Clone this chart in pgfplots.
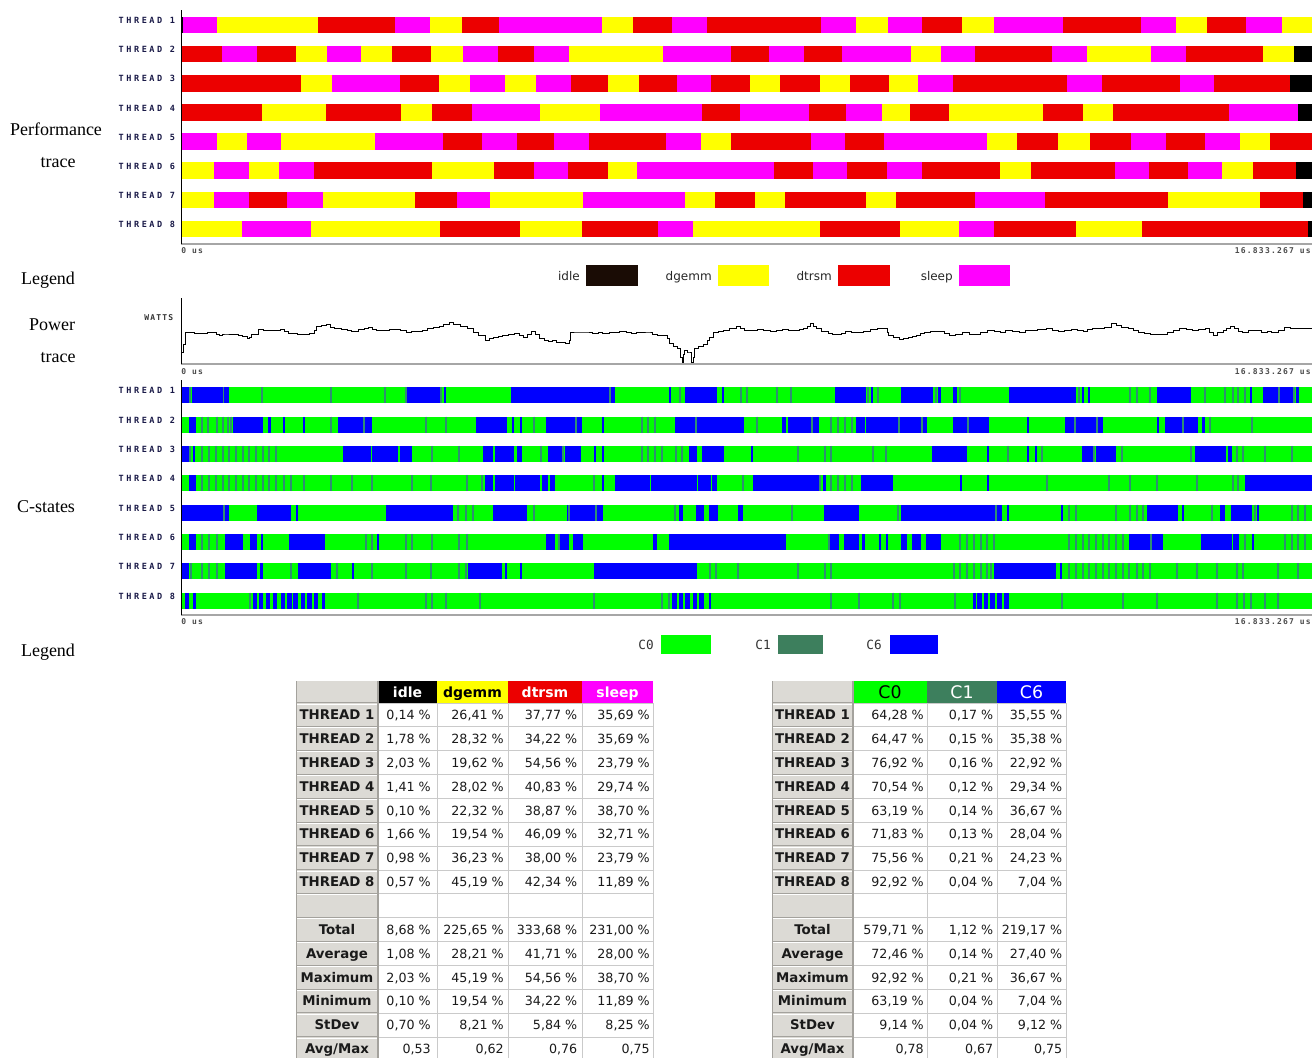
\documentclass[border=0pt]{standalone}
\usepackage{fontspec}
\setmainfont{Liberation Serif}
\newfontfamily\dejavu{DejaVu Sans}
\newfontfamily\dmono{DejaVu Sans Mono}
\newfontfamily\thrfont[LetterSpace=30]{DejaVu Sans Mono}
\newfontfamily\usfont[LetterSpace=15]{DejaVu Sans Mono}
\usepackage{pgfplots}
\pgfplotsset{compat=1.18}
\definecolor{cY}{HTML}{FFFF00}
\definecolor{cR}{HTML}{EC0000}
\definecolor{cM}{HTML}{FF00FF}
\definecolor{cK}{HTML}{000000}
\definecolor{cIdle}{HTML}{1A0C05}
\definecolor{cG}{HTML}{00FF00}
\definecolor{cB}{HTML}{0000FF}
\definecolor{cC1}{HTML}{3D7F5D}
\definecolor{cT}{HTML}{2E8F72}
\definecolor{cGray}{HTML}{DCDAD5}
\definecolor{cGrid}{HTML}{CACACA}
\definecolor{cDark}{HTML}{A4A29D}
\definecolor{cTxt}{HTML}{1A1A1A}
\pgfplotsset{
 trace/.style={scale only axis, anchor=north west, width=848.25pt, xmin=181, xmax=1312,
   axis x line=bottom, axis y line=left, axis on top=true,
   x axis line style={-, draw=black!35, line width=1.5pt},
   y axis line style={-, draw=black, line width=0.75pt},
   xtick=\empty, major tick length=0pt, unbounded coords=jump,
   ytick={1,2,3,4,5,6,7,8},
   yticklabels={THREAD 8,THREAD 7,THREAD 6,THREAD 5,THREAD 4,THREAD 3,THREAD 2,THREAD 1},
   yticklabel style={font=\thrfont\bfseries\fontsize{6.4}{7}\selectfont, text=black!80!blue!90,
     anchor=east, inner sep=0pt, xshift=-4.2pt, yshift=3.4pt}},
}
\tikzset{
 tl/.style={anchor=base, inner sep=0pt, text=cTxt, font=\dejavu\bfseries\fontsize{10}{12}\selectfont},
 tn/.style={anchor=base east, inner sep=0pt, text=cTxt, font=\dejavu\fontsize{9.5}{11}\selectfont},
 side/.style={anchor=base, inner sep=0pt, font=\fontsize{13.5}{15}\selectfont},
 leg/.style={anchor=base east, inner sep=0pt, text=black!85, font=\dejavu\fontsize{9}{10}\selectfont},
 legm/.style={anchor=base east, inner sep=0pt, text=black!80, font=\dmono\fontsize{9.5}{10}\selectfont},
 us/.style={inner sep=0pt, text=black!70, font=\usfont\bfseries\fontsize{6}{7}\selectfont},
}
\newcommand\LT[6]{%
 \node[tl] at (337,{703+(#1-0.5)*23.86+4.7}) {#2};
 \node[tn] at (431,{703+(#1-0.5)*23.86+4.7}) {#3};
 \node[tn] at (504,{703+(#1-0.5)*23.86+4.7}) {#4};
 \node[tn] at (577.5,{703+(#1-0.5)*23.86+4.7}) {#5};
 \node[tn] at (650,{703+(#1-0.5)*23.86+4.7}) {#6};}
\newcommand\RT[5]{%
 \node[tl] at (812.5,{703+(#1-0.5)*23.86+4.7}) {#2};
 \node[tn] at (924,{703+(#1-0.5)*23.86+4.7}) {#3};
 \node[tn] at (993.5,{703+(#1-0.5)*23.86+4.7}) {#4};
 \node[tn] at (1062.5,{703+(#1-0.5)*23.86+4.7}) {#5};}
\begin{document}
\begin{tikzpicture}[x=0.75pt,y=-0.75pt]
\path[use as bounding box] (0,0) rectangle (1312,1057);

% ---------------- Performance trace ----------------
\begin{axis}[trace, at={(135.75pt,-7.5pt)}, height=175.5pt, ymin=0.4853, ymax=8.515]
\addplot[draw=cY, line width=12.5pt] coordinates {
(217,8)(318,8)(nan,nan)(430,8)(462,8)(nan,nan)(602,8)(633,8)(nan,nan)(856,8)(888,8)(nan,nan)(962,8)(994,8)(nan,nan)(1176,8)(1207,8)(nan,nan)(1282,8)(1312,8)(nan,nan)
(296,7)(327,7)(nan,nan)(361,7)(392,7)(nan,nan)(431,7)(463,7)(nan,nan)(569,7)(663,7)(nan,nan)(911,7)(941,7)(nan,nan)(1087,7)(1151,7)(nan,nan)(1263,7)(1294,7)(nan,nan)
(301,6)(332,6)(nan,nan)(439,6)(470,6)(nan,nan)(505,6)(536,6)(nan,nan)(608,6)(639,6)(nan,nan)(750,6)(780,6)(nan,nan)(820,6)(850,6)(nan,nan)(889,6)(918,6)(nan,nan)
(262,5)(326,5)(nan,nan)(401,5)(432,5)(nan,nan)(540,5)(600,5)(nan,nan)(882,5)(910,5)(nan,nan)(949,5)(1043,5)(nan,nan)(1083,5)(1113,5)(nan,nan)
(217,4)(247,4)(nan,nan)(281,4)(375,4)(nan,nan)(701,4)(731,4)(nan,nan)(987,4)(1017,4)(nan,nan)(1058,4)(1090,4)(nan,nan)(1240,4)(1270,4)(nan,nan)
(181,3)(214,3)(nan,nan)(249,3)(279,3)(nan,nan)(432,3)(494,3)(nan,nan)(608,3)(637,3)(nan,nan)(1000,3)(1031,3)(nan,nan)(1222,3)(1253,3)(nan,nan)
(181,2)(214,2)(nan,nan)(323,2)(415,2)(nan,nan)(490,2)(583,2)(nan,nan)(685,2)(715,2)(nan,nan)(755,2)(785,2)(nan,nan)(866,2)(896,2)(nan,nan)(1168,2)(1260,2)(nan,nan)
(181,1)(242,1)(nan,nan)(311,1)(440,1)(nan,nan)(520,1)(582,1)(nan,nan)(693,1)(820,1)(nan,nan)(900,1)(959,1)(nan,nan)(1076,1)(1142,1)
};
\addplot[draw=cR, line width=12.5pt] coordinates {
(318,8)(395,8)(nan,nan)(462,8)(499,8)(nan,nan)(633,8)(672,8)(nan,nan)(707,8)(821,8)(nan,nan)(922,8)(962,8)(nan,nan)(1063,8)(1141,8)(nan,nan)(1207,8)(1246,8)(nan,nan)
(181,7)(222,7)(nan,nan)(257,7)(296,7)(nan,nan)(392,7)(431,7)(nan,nan)(498,7)(534,7)(nan,nan)(731,7)(769,7)(nan,nan)(804,7)(842,7)(nan,nan)(975,7)(1052,7)(nan,nan)(1186,7)(1263,7)(nan,nan)
(181,6)(301,6)(nan,nan)(400,6)(439,6)(nan,nan)(571,6)(608,6)(nan,nan)(639,6)(677,6)(nan,nan)(711,6)(750,6)(nan,nan)(780,6)(820,6)(nan,nan)(850,6)(889,6)(nan,nan)(953,6)(1067,6)(nan,nan)(1102,6)(1180,6)(nan,nan)(1214,6)(1290,6)(nan,nan)
(181,5)(262,5)(nan,nan)(326,5)(401,5)(nan,nan)(432,5)(472,5)(nan,nan)(702,5)(740,5)(nan,nan)(809,5)(846,5)(nan,nan)(910,5)(949,5)(nan,nan)(1043,5)(1083,5)(nan,nan)(1113,5)(1229,5)(nan,nan)
(443,4)(482,4)(nan,nan)(517,4)(554,4)(nan,nan)(589,4)(666,4)(nan,nan)(731,4)(811,4)(nan,nan)(845,4)(884,4)(nan,nan)(1017,4)(1058,4)(nan,nan)(1090,4)(1131,4)(nan,nan)(1166,4)(1205,4)(nan,nan)(1270,4)(1312,4)(nan,nan)
(314,3)(432,3)(nan,nan)(494,3)(534,3)(nan,nan)(568,3)(608,3)(nan,nan)(774,3)(813,3)(nan,nan)(847,3)(887,3)(nan,nan)(922,3)(1000,3)(nan,nan)(1031,3)(1115,3)(nan,nan)(1149,3)(1188,3)(nan,nan)(1253,3)(1296,3)(nan,nan)
(249,2)(287,2)(nan,nan)(415,2)(457,2)(nan,nan)(715,2)(755,2)(nan,nan)(785,2)(866,2)(nan,nan)(896,2)(975,2)(nan,nan)(1045,2)(1168,2)(nan,nan)(1260,2)(1303,2)(nan,nan)
(440,1)(520,1)(nan,nan)(582,1)(658,1)(nan,nan)(820,1)(900,1)(nan,nan)(994,1)(1076,1)(nan,nan)(1142,1)(1308,1)
};
\addplot[draw=cM, line width=12.5pt] coordinates {
(183,8)(217,8)(nan,nan)(395,8)(430,8)(nan,nan)(499,8)(602,8)(nan,nan)(672,8)(707,8)(nan,nan)(821,8)(856,8)(nan,nan)(888,8)(922,8)(nan,nan)(994,8)(1063,8)(nan,nan)(1141,8)(1176,8)(nan,nan)(1246,8)(1282,8)(nan,nan)
(222,7)(257,7)(nan,nan)(327,7)(361,7)(nan,nan)(463,7)(498,7)(nan,nan)(534,7)(569,7)(nan,nan)(663,7)(731,7)(nan,nan)(769,7)(804,7)(nan,nan)(842,7)(911,7)(nan,nan)(941,7)(975,7)(nan,nan)(1052,7)(1087,7)(nan,nan)(1151,7)(1186,7)(nan,nan)
(332,6)(400,6)(nan,nan)(470,6)(505,6)(nan,nan)(536,6)(571,6)(nan,nan)(677,6)(711,6)(nan,nan)(918,6)(953,6)(nan,nan)(1067,6)(1102,6)(nan,nan)(1180,6)(1214,6)(nan,nan)
(472,5)(540,5)(nan,nan)(600,5)(702,5)(nan,nan)(740,5)(809,5)(nan,nan)(846,5)(882,5)(nan,nan)(1229,5)(1298,5)(nan,nan)
(181,4)(217,4)(nan,nan)(247,4)(281,4)(nan,nan)(375,4)(443,4)(nan,nan)(482,4)(517,4)(nan,nan)(554,4)(589,4)(nan,nan)(666,4)(701,4)(nan,nan)(811,4)(845,4)(nan,nan)(884,4)(987,4)(nan,nan)(1131,4)(1166,4)(nan,nan)(1205,4)(1240,4)(nan,nan)
(214,3)(249,3)(nan,nan)(279,3)(314,3)(nan,nan)(534,3)(568,3)(nan,nan)(637,3)(774,3)(nan,nan)(813,3)(847,3)(nan,nan)(887,3)(922,3)(nan,nan)(1115,3)(1149,3)(nan,nan)(1188,3)(1222,3)(nan,nan)
(214,2)(249,2)(nan,nan)(287,2)(323,2)(nan,nan)(457,2)(490,2)(nan,nan)(583,2)(685,2)(nan,nan)(975,2)(1045,2)(nan,nan)
(242,1)(311,1)(nan,nan)(658,1)(693,1)(nan,nan)(959,1)(994,1)
};
\addplot[draw=cK, line width=12.5pt] coordinates {
(181,8)(183,8)(nan,nan)(1294,7)(1312,7)(nan,nan)(1290,6)(1312,6)(nan,nan)(1298,5)(1312,5)(nan,nan)(1296,3)(1312,3)(nan,nan)(1303,2)(1312,2)(nan,nan)(1308,1)(1312,1)
};
\end{axis}
\node[us, anchor=north west] at (181,247) {0 us};
\node[us, anchor=north east] at (1311,247) {16.833.267 us};

% ---------------- Legend 1 ----------------
\fill[cIdle] (586,265) rectangle (638,286);
\fill[cY] (718,265) rectangle (769,286);
\fill[cR] (838,265) rectangle (890,286);
\fill[cM] (959,265) rectangle (1010,286);
\node[leg] at (580,280) {idle};
\node[leg] at (712,280) {dgemm};
\node[leg] at (832,280) {dtrsm};
\node[leg] at (953,280) {sleep};

% ---------------- Power trace ----------------
\begin{axis}[trace, at={(135.75pt,-223.5pt)}, height=49.5pt, xmin=216, xmax=1568, ymin=0, ymax=198, ytick=\empty]
\addplot[black, line width=0.65pt, const plot mark left] coordinates {
(216,0) (217,36) (219,60) (221,94) (225,96) (232,92) (240,92) (248,94) (255,94) (258,88) (262,86) (266,90) (270,90) (276,88) (285,86) (290,84) (295,76) (298,80) (300,88) (305,90) (308,104) (314,100) (320,101) (328,102) (335,104) (340,98) (345,93) (350,92) (355,89) (362,90) (370,91) (375,100) (378,114) (384,116) (390,118) (395,110) (400,106) (408,104) (415,100) (420,98) (428,104) (435,106) (440,111) (445,104) (450,101) (458,102) (465,104) (470,104) (478,100) (485,96) (492,98) (500,98) (505,102) (510,108) (518,110) (525,114) (530,118) (537,126) (542,118) (550,113) (558,106) (565,96) (572,86) (580,71) (585,76) (590,81) (596,84) (600,86) (607,88) (615,91) (620,86) (625,81) (630,90) (635,98) (640,90) (645,76) (650,72) (655,69) (660,70) (665,64) (670,64) (675,61) (680,70) (682,96) (690,96) (700,96) (708,92) (715,94) (720,91) (728,94) (735,96) (740,98) (748,96) (755,93) (760,94) (768,96) (775,96) (780,90) (785,86) (790,86) (795,86) (798,76) (800,61) (805,54) (810,46) (813,20) (815,6) (817,30) (818,41) (821,36) (823,36) (826,6) (828,20) (830,46) (835,52) (840,58) (845,70) (848,81) (852,94) (858,98) (865,101) (872,106) (880,113) (885,106) (890,101) (897,102) (905,104) (912,100) (920,98) (928,102) (935,104) (942,101) (950,101) (955,104) (960,106) (965,112) (968,121) (972,112) (975,106) (982,98) (990,91) (995,88) (1000,88) (1005,92) (1010,98) (1018,96) (1025,94) (1032,99) (1040,104) (1048,106) (1055,108) (1060,96) (1062,86) (1068,80) (1075,74) (1080,78) (1085,81) (1090,84) (1095,86) (1100,92) (1105,96) (1112,98) (1120,98) (1128,92) (1135,86) (1142,90) (1150,94) (1158,90) (1165,88) (1172,94) (1180,101) (1188,98) (1195,96) (1202,100) (1210,98) (1218,96) (1225,100) (1230,101) (1240,104) (1250,106) (1258,100) (1265,98) (1272,102) (1280,104) (1288,100) (1295,98) (1300,104) (1305,108) (1312,106) (1320,111) (1328,121) (1334,116) (1340,111) (1348,106) (1355,100) (1360,96) (1368,92) (1375,90) (1380,88) (1388,90) (1395,94) (1402,100) (1410,108) (1418,104) (1425,101) (1432,104) (1440,106) (1445,96) (1450,86) (1455,94) (1462,101) (1466,106) (1470,114) (1475,106) (1480,98) (1485,96) (1492,100) (1500,101) (1508,96) (1515,98) (1520,94) (1528,100) (1535,111) (1542,106) (1550,108) (1558,106) (1568,104)
};
\end{axis}
\node[us, anchor=east, text=black!80] at (173.5,318) {WATTS};
\node[us, anchor=north west] at (181,368) {0 us};
\node[us, anchor=north east] at (1311,368) {16.833.267 us};

% ---------------- C-states ----------------
\begin{axis}[trace, at={(135.75pt,-285pt)}, height=176.25pt, ymin=0.5126, ymax=8.521]
\addplot[draw=cG, line width=12pt] coordinates {
(181,8)(1312,8)(nan,nan)(181,7)(1312,7)(nan,nan)(181,6)(1312,6)(nan,nan)(181,5)(1312,5)(nan,nan)(181,4)(1312,4)(nan,nan)(181,3)(1312,3)(nan,nan)(181,2)(1312,2)(nan,nan)(181,1)(1312,1)
};
\addplot[draw=cB, line width=12pt] coordinates {
(181,8)(189,8)(nan,nan)(192,8)(223,8)(nan,nan)(224,8)(229,8)(nan,nan)(407,8)(440,8)(nan,nan)(444,8)(446,8)(nan,nan)(511,8)(609,8)(nan,nan)(611,8)(615,8)(nan,nan)(669,8)(671,8)(nan,nan)(685,8)(717,8)(nan,nan)(722,8)(724,8)(nan,nan)(835,8)(866,8)(nan,nan)(871,8)(873,8)(nan,nan)(901,8)(933,8)(nan,nan)(938,8)(941,8)(nan,nan)(953,8)(957,8)(nan,nan)(1009,8)(1076,8)(nan,nan)(1082,8)(1084,8)(nan,nan)(1088,8)(1090,8)(nan,nan)(1157,8)(1191,8)(nan,nan)(1250,8)(1252,8)(nan,nan)(1263,8)(1278,8)(nan,nan)(1280,8)(1293,8)(nan,nan)(1296,8)(1299,8)(nan,nan)
(189,7)(196,7)(nan,nan)(233,7)(263,7)(nan,nan)(268,7)(271,7)(nan,nan)(283,7)(285,7)(nan,nan)(303,7)(305,7)(nan,nan)(338,7)(363,7)(nan,nan)(365,7)(372,7)(nan,nan)(476,7)(507,7)(nan,nan)(512,7)(514,7)(nan,nan)(520,7)(522,7)(nan,nan)(546,7)(575,7)(nan,nan)(577,7)(582,7)(nan,nan)(602,7)(603.5,7)(nan,nan)(675,7)(695,7)(nan,nan)(697,7)(744,7)(nan,nan)(782,7)(786,7)(nan,nan)(788,7)(812,7)(nan,nan)(813,7)(819,7)(nan,nan)(856,7)(865,7)(nan,nan)(866,7)(898,7)(nan,nan)(900,7)(921,7)(nan,nan)(923,7)(927,7)(nan,nan)(953,7)(967,7)(nan,nan)(969,7)(989,7)(nan,nan)(1027,7)(1029,7)(nan,nan)(1065,7)(1075,7)(nan,nan)(1076,7)(1096,7)(nan,nan)(1098,7)(1103,7)(nan,nan)(1157,7)(1158.5,7)(nan,nan)(1165,7)(1183,7)(nan,nan)(1184,7)(1198,7)(nan,nan)(1202,7)(1205,7)(nan,nan)
(181,6)(189,6)(nan,nan)(193,6)(195,6)(nan,nan)(343,6)(371,6)(nan,nan)(372,6)(398,6)(nan,nan)(400,6)(412,6)(nan,nan)(483,6)(493,6)(nan,nan)(495,6)(514,6)(nan,nan)(517,6)(522,6)(nan,nan)(548,6)(562,6)(nan,nan)(565,6)(581,6)(nan,nan)(594,6)(596,6)(nan,nan)(602,6)(603.5,6)(nan,nan)(689,6)(697,6)(nan,nan)(702,6)(724,6)(nan,nan)(751,6)(752.5,6)(nan,nan)(932,6)(967,6)(nan,nan)(987,6)(989,6)(nan,nan)(1027,6)(1029,6)(nan,nan)(1035,6)(1037,6)(nan,nan)(1082,6)(1093,6)(nan,nan)(1096,6)(1116,6)(nan,nan)(1195,6)(1226,6)(nan,nan)(1228,6)(1232,6)(nan,nan)
(189,5)(196,5)(nan,nan)(485,5)(493,5)(nan,nan)(495,5)(514,5)(nan,nan)(515,5)(540,5)(nan,nan)(542,5)(548,5)(nan,nan)(550,5)(555,5)(nan,nan)(602,5)(603.5,5)(nan,nan)(615,5)(650,5)(nan,nan)(651,5)(697,5)(nan,nan)(698,5)(711,5)(nan,nan)(712,5)(717,5)(nan,nan)(753,5)(819,5)(nan,nan)(823,5)(826,5)(nan,nan)(861,5)(893,5)(nan,nan)(960,5)(962,5)(nan,nan)(987,5)(989,5)(nan,nan)(1245,5)(1312,5)(nan,nan)
(181,4)(223,4)(nan,nan)(225,4)(229,4)(nan,nan)(257,4)(291,4)(nan,nan)(296,4)(297.5,4)(nan,nan)(386,4)(453,4)(nan,nan)(493,4)(527,4)(nan,nan)(567,4)(568.5,4)(nan,nan)(570,4)(595,4)(nan,nan)(597,4)(603,4)(nan,nan)(679,4)(683,4)(nan,nan)(696,4)(704,4)(nan,nan)(709,4)(718,4)(nan,nan)(738,4)(743,4)(nan,nan)(824,4)(859,4)(nan,nan)(901,4)(995,4)(nan,nan)(997,4)(1002,4)(nan,nan)(1007,4)(1009,4)(nan,nan)(1061,4)(1063,4)(nan,nan)(1147,4)(1178,4)(nan,nan)(1182,4)(1183.5,4)(nan,nan)(1220,4)(1225,4)(nan,nan)(1231,4)(1252,4)(nan,nan)(1257,4)(1259,4)(nan,nan)
(189,3)(196,3)(nan,nan)(225,3)(243,3)(nan,nan)(250,3)(257,3)(nan,nan)(261,3)(263,3)(nan,nan)(289,3)(325,3)(nan,nan)(377,3)(378.5,3)(nan,nan)(546,3)(555,3)(nan,nan)(560,3)(569,3)(nan,nan)(573,3)(583,3)(nan,nan)(653,3)(657,3)(nan,nan)(669,3)(786,3)(nan,nan)(829,3)(839,3)(nan,nan)(844,3)(859,3)(nan,nan)(862,3)(865,3)(nan,nan)(879,3)(880.5,3)(nan,nan)(886,3)(888,3)(nan,nan)(901,3)(907,3)(nan,nan)(912,3)(921,3)(nan,nan)(926,3)(941,3)(nan,nan)(1129,3)(1150,3)(nan,nan)(1152,3)(1163,3)(nan,nan)(1201,3)(1232,3)(nan,nan)(1233,3)(1239,3)(nan,nan)(1252,3)(1253.5,3)(nan,nan)
(181,2)(189,2)(nan,nan)(225,2)(257,2)(nan,nan)(260,2)(263,2)(nan,nan)(298,2)(331,2)(nan,nan)(352,2)(353.5,2)(nan,nan)(468,2)(502,2)(nan,nan)(505,2)(507,2)(nan,nan)(520,2)(522,2)(nan,nan)(594,2)(697,2)(nan,nan)(994,2)(1056,2)(nan,nan)(1060,2)(1062,2)(nan,nan)
(185,1)(189,1)(nan,nan)(193,1)(196,1)(nan,nan)(253,1)(257,1)(nan,nan)(259,1)(263,1)(nan,nan)(266,1)(270,1)(nan,nan)(273,1)(277,1)(nan,nan)(281,1)(285,1)(nan,nan)(287,1)(292,1)(nan,nan)(293,1)(298,1)(nan,nan)(301,1)(305,1)(nan,nan)(307,1)(312,1)(nan,nan)(314,1)(318,1)(nan,nan)(322,1)(325,1)(nan,nan)(672,1)(677,1)(nan,nan)(679,1)(683,1)(nan,nan)(685,1)(690,1)(nan,nan)(693,1)(697,1)(nan,nan)(699,1)(704,1)(nan,nan)(709,1)(711,1)(nan,nan)(973,1)(976,1)(nan,nan)(977,1)(982,1)(nan,nan)(984,1)(988,1)(nan,nan)(990,1)(995,1)(nan,nan)(997,1)(1002,1)(nan,nan)(1004,1)(1009,1)
};
\addplot[only marks, mark=|, mark size=6pt, color=cT, mark options={line width=0.8pt}] coordinates {
(190,8)(223.5,8)(262,8)(331,8)(385,8)(406,8)(441,8)(610,8)(680,8)(741,8)(747,8)(777,8)(791,8)(868,8)(878,8)(936,8)(960,8)(1079,8)(1130,8)(1137,8)(1150,8)(1205,8)(1225,8)(1233,8)(1238,8)(1245,8)(1279,8)(1294,8)
(202,7)(208,7)(217,7)(223,7)(228,7)(231,7)(331,7)(364,7)(426,7)(446,7)(534,7)(576,7)(642,7)(648,7)(655,7)(696,7)(757,7)(812,7)(831,7)(838,7)(845,7)(852,7)(899,7)(922,7)(968,7)(1075,7)(1097,7)(1183,7)(1210,7)(1252,7)
(190,6)(202,6)(209,6)(216,6)(223,6)(229,6)(236,6)(243,6)(249,6)(256,6)(263,6)(269,6)(276,6)(432,6)(459,6)(541,6)(563,6)(642,6)(648,6)(655,6)(662,6)(676,6)(682,6)(798,6)(825,6)(831,6)(873,6)(886,6)(1008,6)(1042,6)(1094,6)(1122,6)(1191,6)(1237,6)(1243,6)(1265,6)(1292,6)
(202,5)(209,5)(216,5)(223,5)(229,5)(236,5)(243,5)(249,5)(256,5)(263,5)(269,5)(276,5)(284,5)(291,5)(304,5)(331,5)(352,5)(372,5)(412,5)(431,5)(467,5)(482,5)(594,5)(743,5)(820,5)(831,5)(838,5)(845,5)(852,5)(1047,5)(1109,5)(1130,5)(1157,5)(1197,5)(1233,5)(1238,5)
(224,4)(458,4)(466,4)(473,4)(534,4)(569,4)(596,4)(675,4)(792,4)(898,4)(996,4)(1069,4)(1076,4)(1116,4)(1130,4)(1137,4)(1143,4)(1212,4)(1255,4)(1292,4)(1298,4)(1305,4)
(202,3)(209,3)(217,3)(366,3)(372,3)(406,3)(412,3)(432,3)(459,3)(467,3)(559,3)(829,3)(960,3)(967,3)(974,3)(981,3)(987,3)(994,3)(1069,3)(1076,3)(1083,3)(1089,3)(1096,3)(1103,3)(1109,3)(1116,3)(1123,3)(1151,3)(1245,3)(1285,3)(1292,3)(1298,3)(1305,3)
(191,2)(202,2)(209,2)(217,2)(291,2)(337,2)(372,2)(406,2)(431,2)(459,2)(466,2)(710,2)(716,2)(738,2)(798,2)(825,2)(831,2)(954,2)(960,2)(967,2)(974,2)(981,2)(987,2)(991,2)(1069,2)(1076,2)(1083,2)(1089,2)(1096,2)(1103,2)(1109,2)(1116,2)(1123,2)(1129,2)(1137,2)(1143,2)(1150,2)(1177,2)(1197,2)(1217,2)(1237,2)(1243,2)(1278,2)(1298,2)
(250,1)(358,1)(426,1)(432,1)(446,1)(480,1)(594,1)(662,1)(669,1)(831,1)(859,1)(893,1)(900,1)(955,1)(1062,1)(1123,1)(1157,1)(1217,1)(1237,1)(1244,1)(1251,1)(1265,1)(1278,1)
};
\end{axis}
\node[us, anchor=north west] at (181,618) {0 us};
\node[us, anchor=north east] at (1311,618) {16.833.267 us};

% ---------------- Legend 2 ----------------
\fill[cG] (661,635) rectangle (711,654);
\fill[cC1] (778,635) rectangle (823,654);
\fill[cB] (890,635) rectangle (938,654);
\node[legm] at (654,649) {C0};
\node[legm] at (771,649) {C1};
\node[legm] at (882,649) {C6};

% ---------------- side labels ----------------
\node[side] at (56,135) {Performance};
\node[side] at (58,167) {trace};
\node[side] at (48,284) {Legend};
\node[side] at (52,330) {Power};
\node[side] at (58,362) {trace};
\node[side] at (46,512) {C-states};
\node[side] at (48,656) {Legend};

% ---------------- left table ----------------
\fill[cGray] (296,681) rectangle (378,1062);
\fill[white] (378,703) rectangle (653,1062);
\fill[black] (378,681) rectangle (437,703);
\fill[cY] (437,681) rectangle (508,703);
\fill[cR] (508,681) rectangle (582,703);
\fill[cM] (582,681) rectangle (653,703);
\foreach \k in {0,...,15} {
  \draw[cGrid, line width=0.75pt] (378,{703+\k*23.86}) -- (653,{703+\k*23.86});
  \draw[white, line width=0.75pt] (297,{704+\k*23.86}) -- (377,{704+\k*23.86});
  \draw[cDark, line width=0.6pt] (296,{702.6+\k*23.86}) -- (378,{702.6+\k*23.86});
}
\foreach \c in {437,508,582,653} \draw[cGrid, line width=0.75pt] (\c,703) -- (\c,1062);
\draw[cDark, line width=1pt] (378,681) -- (378,1062);
\draw[cDark, line width=0.6pt] (296,681) -- (296,1062);
\node[anchor=base, inner sep=0pt, text=white, font=\dejavu\bfseries\fontsize{10.5}{12}\selectfont] at (407.5,697) {idle};
\node[anchor=base, inner sep=0pt, text=black, font=\dejavu\bfseries\fontsize{10.5}{12}\selectfont] at (472.5,697) {dgemm};
\node[anchor=base, inner sep=0pt, text=white, font=\dejavu\bfseries\fontsize{10.5}{12}\selectfont] at (545,697) {dtrsm};
\node[anchor=base, inner sep=0pt, text=white, font=\dejavu\bfseries\fontsize{10.5}{12}\selectfont] at (617.5,697) {sleep};
\LT{1}{THREAD 1}{0,14 \%}{26,41 \%}{37,77 \%}{35,69 \%}
\LT{2}{THREAD 2}{1,78 \%}{28,32 \%}{34,22 \%}{35,69 \%}
\LT{3}{THREAD 3}{2,03 \%}{19,62 \%}{54,56 \%}{23,79 \%}
\LT{4}{THREAD 4}{1,41 \%}{28,02 \%}{40,83 \%}{29,74 \%}
\LT{5}{THREAD 5}{0,10 \%}{22,32 \%}{38,87 \%}{38,70 \%}
\LT{6}{THREAD 6}{1,66 \%}{19,54 \%}{46,09 \%}{32,71 \%}
\LT{7}{THREAD 7}{0,98 \%}{36,23 \%}{38,00 \%}{23,79 \%}
\LT{8}{THREAD 8}{0,57 \%}{45,19 \%}{42,34 \%}{11,89 \%}
\LT{10}{Total}{8,68 \%}{225,65 \%}{333,68 \%}{231,00 \%}
\LT{11}{Average}{1,08 \%}{28,21 \%}{41,71 \%}{28,00 \%}
\LT{12}{Maximum}{2,03 \%}{45,19 \%}{54,56 \%}{38,70 \%}
\LT{13}{Minimum}{0,10 \%}{19,54 \%}{34,22 \%}{11,89 \%}
\LT{14}{StDev}{0,70 \%}{8,21 \%}{5,84 \%}{8,25 \%}
\LT{15}{Avg/Max}{0,53}{0,62}{0,76}{0,75}

% ---------------- right table ----------------
\fill[cGray] (772,681) rectangle (853,1062);
\fill[white] (853,703) rectangle (1066,1062);
\fill[cG] (853,681) rectangle (927,703);
\fill[cC1] (927,681) rectangle (997,703);
\fill[cB] (997,681) rectangle (1066,703);
\foreach \k in {0,...,15} {
  \draw[cGrid, line width=0.75pt] (853,{703+\k*23.86}) -- (1066,{703+\k*23.86});
  \draw[white, line width=0.75pt] (773,{704+\k*23.86}) -- (852,{704+\k*23.86});
  \draw[cDark, line width=0.6pt] (772,{702.6+\k*23.86}) -- (853,{702.6+\k*23.86});
}
\foreach \c in {927,997,1066} \draw[cGrid, line width=0.75pt] (\c,703) -- (\c,1062);
\draw[cDark, line width=1pt] (853,681) -- (853,1062);
\draw[cDark, line width=0.6pt] (772,681) -- (772,1062);
\node[anchor=base, inner sep=0pt, text=black, font=\dejavu\fontsize{13}{14}\selectfont] at (890,698) {C0};
\node[anchor=base, inner sep=0pt, text=white, font=\dejavu\fontsize{13}{14}\selectfont] at (962,698) {C1};
\node[anchor=base, inner sep=0pt, text=white, font=\dejavu\fontsize{13}{14}\selectfont] at (1031.5,698) {C6};
\RT{1}{THREAD 1}{64,28 \%}{0,17 \%}{35,55 \%}
\RT{2}{THREAD 2}{64,47 \%}{0,15 \%}{35,38 \%}
\RT{3}{THREAD 3}{76,92 \%}{0,16 \%}{22,92 \%}
\RT{4}{THREAD 4}{70,54 \%}{0,12 \%}{29,34 \%}
\RT{5}{THREAD 5}{63,19 \%}{0,14 \%}{36,67 \%}
\RT{6}{THREAD 6}{71,83 \%}{0,13 \%}{28,04 \%}
\RT{7}{THREAD 7}{75,56 \%}{0,21 \%}{24,23 \%}
\RT{8}{THREAD 8}{92,92 \%}{0,04 \%}{7,04 \%}
\RT{10}{Total}{579,71 \%}{1,12 \%}{219,17 \%}
\RT{11}{Average}{72,46 \%}{0,14 \%}{27,40 \%}
\RT{12}{Maximum}{92,92 \%}{0,21 \%}{36,67 \%}
\RT{13}{Minimum}{63,19 \%}{0,04 \%}{7,04 \%}
\RT{14}{StDev}{9,14 \%}{0,04 \%}{9,12 \%}
\RT{15}{Avg/Max}{0,78}{0,67}{0,75}
\end{tikzpicture}
\end{document}
